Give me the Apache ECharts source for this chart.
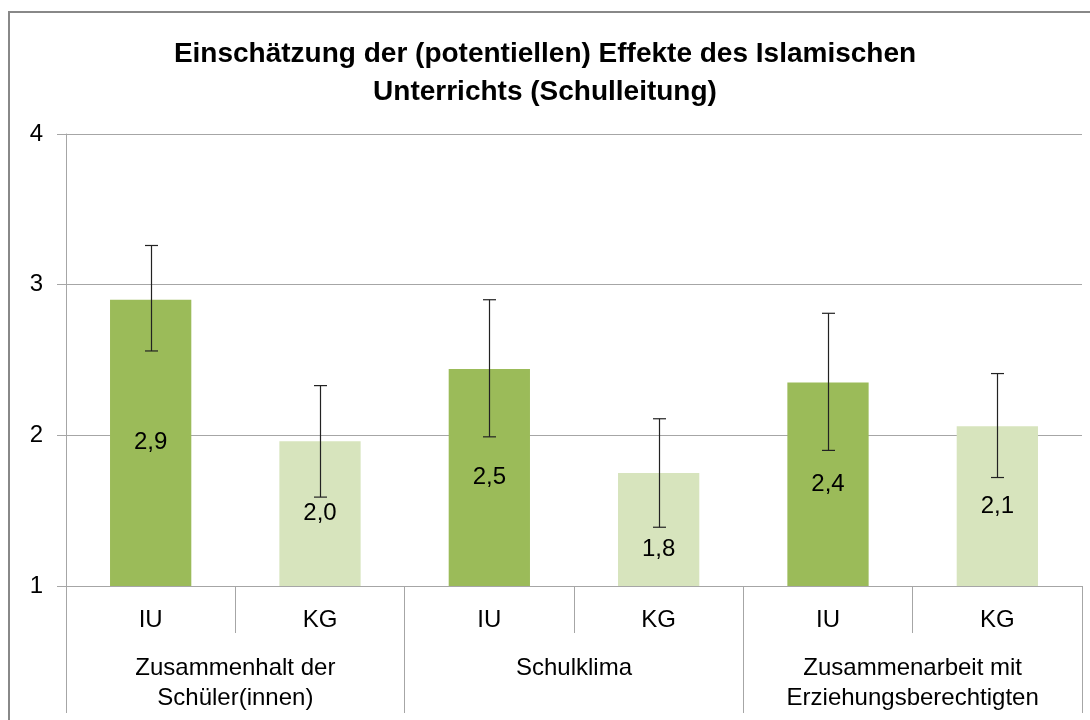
<!DOCTYPE html>
<html><head><meta charset="utf-8">
<script src="https://cdn.jsdelivr.net/npm/echarts@6/dist/echarts.min.js"></script>
<style>html,body{margin:0;padding:0;background:#fff}#c{width:1090px;height:720px}</style>
</head><body><div id="c"></div>
<script>
const titleText = 'Einschätzung der (potentiellen) Effekte des Islamischen\nUnterrichts (Schulleitung)';
const categories = ['IU','KG','IU','KG','IU','KG'];
const groups = ['Zusammenhalt der\nSchüler(innen)','Schulklima','Zusammenarbeit mit\nErziehungsberechtigten'];
const means = [2.90, 1.96, 2.44, 1.75, 2.35, 2.06];
const errLow = [2.56, 1.59, 1.99, 1.39, 1.90, 1.72];
const errHigh = [3.26, 2.33, 2.90, 2.11, 2.81, 2.41];
const valueLabels = ['2,9','2,0','2,5','1,8','2,4','2,1'];
const yTicks = [1, 2, 3, 4];
const colorIU = '#9BBB59', colorKG = '#D7E4BD';

const font = '"Liberation Sans", Arial, sans-serif';
const gray = '#a6a6a6';
const chart = echarts.init(document.getElementById('c'));
chart.setOption({
  animation: false,
  backgroundColor: '#fff',
  title: {
    text: titleText, left: 'center', top: 30,
    textStyle: {fontFamily: font, fontWeight: 'bold', fontSize: 28, lineHeight: 38, color: '#000'}
  },
  graphic: [{type: 'rect', shape: {x: 9, y: 12, width: 1100, height: 720}, style: {fill: 'none', stroke: '#888', lineWidth: 2}, silent: true}],
  grid: {left: 66, right: 8, top: 134, bottom: 134},
  xAxis: [{
    type: 'category', data: categories, position: 'bottom',
    axisLine: {show: true, lineStyle: {color: gray, width: 1}},
    axisTick: {show: true, length: 47, interval: 0, lineStyle: {color: gray}},
    axisLabel: {fontFamily: font, fontSize: 24, color: '#000', margin: 22, interval: 0}
  }, {
    type: 'category', data: groups, position: 'bottom', offset: 47,
    axisLine: {show: false},
    axisTick: {show: true, length: 80, interval: 0, lineStyle: {color: gray}},
    axisLabel: {fontFamily: font, fontSize: 24, color: '#000', margin: 20, lineHeight: 30, interval: 0}
  }],
  yAxis: {
    type: 'value', min: yTicks[0], max: yTicks[yTicks.length - 1], interval: 1,
    axisLine: {show: true, lineStyle: {color: gray}},
    axisTick: {show: true, length: 9, lineStyle: {color: gray}},
    axisLabel: {fontFamily: font, fontSize: 24, color: '#000', margin: 23},
    splitLine: {show: true, lineStyle: {color: gray, width: 1}}
  },
  series: [{
    type: 'bar', xAxisIndex: 0, barWidth: '48%',
    data: means.map((v, i) => ({
      value: v,
      itemStyle: {color: categories[i] === 'IU' ? colorIU : colorKG},
      label: {formatter: valueLabels[i], offset: i === 3 ? [0, 20] : [0, 0]}
    })),
    label: {show: true, position: 'inside', fontFamily: font, fontSize: 24, color: '#000'}
  }, {
    type: 'custom', xAxisIndex: 0,
    data: means.map((v, i) => [i, errLow[i], errHigh[i]]),
    renderItem: function (params, api) {
      const lo = api.coord([api.value(0), api.value(1)]);
      const hi = api.coord([api.value(0), api.value(2)]);
      const x = Math.round(lo[0]) + 0.5, hw = 6.5;
      const st = {stroke: '#222', lineWidth: 1.2};
      return {type: 'group', children: [
        {type: 'line', shape: {x1: x, y1: hi[1], x2: x, y2: lo[1]}, style: st},
        {type: 'line', shape: {x1: x - hw, y1: hi[1], x2: x + hw, y2: hi[1]}, style: st},
        {type: 'line', shape: {x1: x - hw, y1: lo[1], x2: x + hw, y2: lo[1]}, style: st}
      ]};
    },
    z: 10
  }]
});
</script></body></html>
